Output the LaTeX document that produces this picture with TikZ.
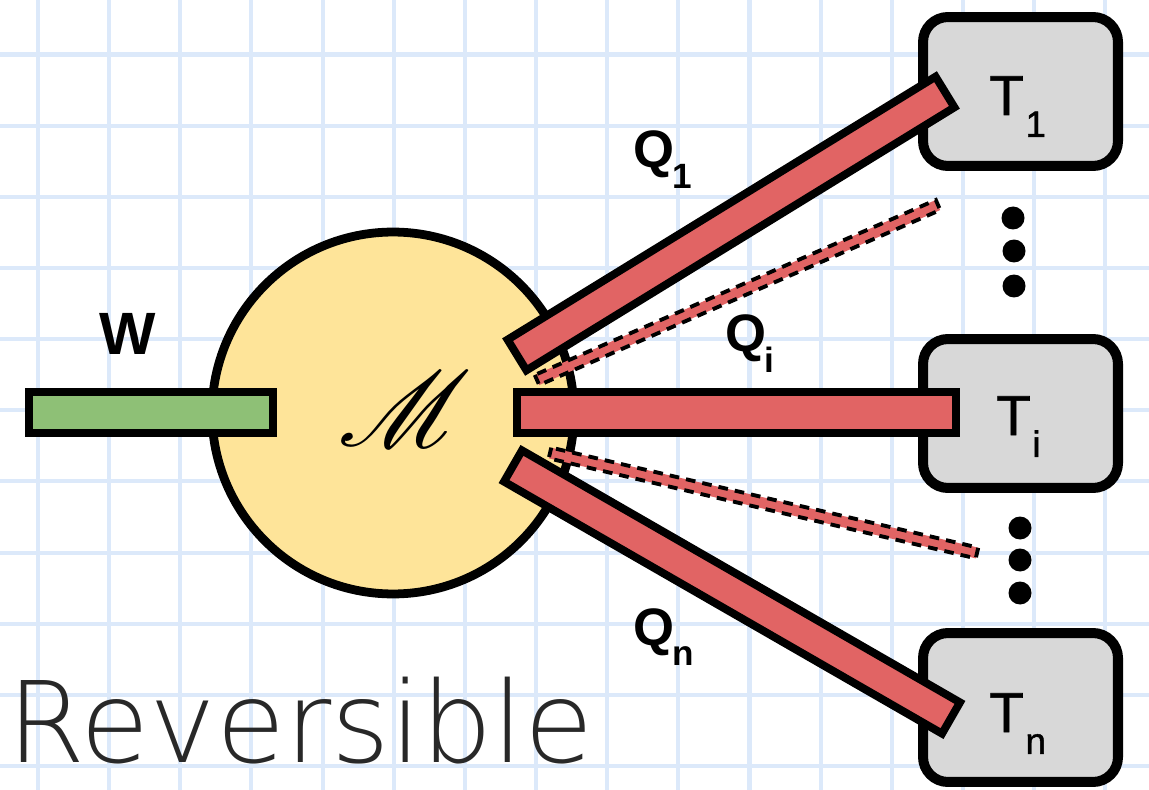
\documentclass[tikz,border=0pt]{standalone}
\usepackage{fontspec}
\setmainfont{Liberation Sans}
\newfontfamily\handfont{DejaVuSans-ExtraLight.ttf}
\newfontfamily\tfont{Liberation Sans}[FakeBold=1.2]
\usepackage{mathrsfs}
\usetikzlibrary{calc}
\definecolor{gridc}{RGB}{220,233,250}
\definecolor{barred}{RGB}{225,100,100}
\definecolor{bargreen}{RGB}{142,192,118}
\definecolor{boxgray}{RGB}{216,216,216}
\definecolor{engy}{RGB}{254,228,153}
\definecolor{handc}{RGB}{40,40,40}
\newcommand\Qlab[1]{{\fontsize{30}{30}\selectfont\bfseries Q\kern-1pt\raisebox{-11.5pt}{\fontsize{20}{20}\selectfont\bfseries #1}}}
\newcommand\Tlab[1]{{\tfont\fontsize{32}{32}\selectfont T\kern1pt\raisebox{-12.5pt}{\fontsize{21}{21}\selectfont #1}}}
\tikzset{
  gridline/.style={draw=gridc, line width=2.3pt},
  engine/.style={circle, draw=black, fill=engy, line width=5pt, minimum size=7.24cm, inner sep=0pt},
  reservoir/.style={rectangle, rounded corners=0.5cm, draw=black, fill=boxgray, line width=5.7pt, minimum width=3.9cm, minimum height=2.98cm, inner sep=0pt},
  heatbar/.style={draw=black, fill=barred, line width=4.5pt, line join=miter},
  workbar/.style={draw=black, fill=bargreen, line width=4.5pt},
  revbar/.style={draw=black, fill=barred, line width=2.2pt, dash pattern=on 5.5pt off 4pt},
  ellipsisdot/.style={circle, fill=black, inner sep=0pt, minimum size=0.46cm},
  lbl/.style={anchor=base west, inner sep=0pt, text=black},
}
\begin{document}
\begin{tikzpicture}[x=0.02cm,y=-0.02cm]
\useasboundingbox (0,0) rectangle (1149,790);
\fill[white] (0,0) rectangle (1149,790);
\foreach \k in {0,...,15} \draw[gridline] ({38+71.15*\k},0) -- ({38+71.15*\k},790);
\foreach \k in {0,...,10} \draw[gridline] (0,{54.5+71.15*\k}) -- (1149,{54.5+71.15*\k});

% engine and reservoirs
\node[engine] (M) at (393,413) {};
\node[scale=6.1] (Mlab) at (405,409) {$\mathscr{M}$};
\node[reservoir] (T1) at (1020.5,91.5) {};
\node[reservoir] (Ti) at (1020.5,413.5) {};
\node[reservoir] (Tn) at (1020.5,707.5) {};

% work bar
\coordinate (wa) at (29,392);
\coordinate (wb) at (273,433);
\draw[workbar] (wa) rectangle (wb);

% heat bars
\coordinate (q1a) at (517,355); \coordinate (q1b) at (945,92);
\draw[heatbar] ($(q1a)!0.36cm!90:(q1b)$) -- ($(q1a)!0.36cm!-90:(q1b)$) -- ($(q1b)!0.36cm!90:(q1a)$) -- ($(q1b)!0.36cm!-90:(q1a)$) -- cycle;
\coordinate (tia) at (517,392); \coordinate (tib) at (956,433);
\draw[heatbar] (tia) rectangle (tib);
\coordinate (qna) at (513,466); \coordinate (qnb) at (951,718);
\draw[heatbar] ($(qna)!0.36cm!90:(qnb)$) -- ($(qna)!0.36cm!-90:(qnb)$) -- ($(qnb)!0.36cm!90:(qna)$) -- ($(qnb)!0.36cm!-90:(qna)$) -- cycle;

% dashed thin bands
\coordinate (r1a) at (537,380); \coordinate (r1b) at (938,205);
\draw[revbar] ($(r1a)!0.11cm!90:(r1b)$) -- ($(r1a)!0.11cm!-90:(r1b)$) -- ($(r1b)!0.11cm!90:(r1a)$) -- ($(r1b)!0.11cm!-90:(r1a)$) -- cycle;
\coordinate (r2a) at (550,453); \coordinate (r2b) at (977,553);
\draw[revbar] ($(r2a)!0.11cm!90:(r2b)$) -- ($(r2a)!0.11cm!-90:(r2b)$) -- ($(r2b)!0.11cm!90:(r2a)$) -- ($(r2b)!0.11cm!-90:(r2a)$) -- cycle;

% dots
\node[ellipsisdot] (d1) at (1013,218) {};
\node[ellipsisdot] (d2) at (1014,251) {};
\node[ellipsisdot] (d3) at (1014,286) {};
\node[ellipsisdot] (d4) at (1020,528) {};
\node[ellipsisdot] (d5) at (1020,560) {};
\node[ellipsisdot] (d6) at (1020,593) {};

% labels
\node[lbl] (Q1) at (633,168) {\Qlab{1}};
\node[lbl] (Qi) at (725,352) {\Qlab{i}};
\node[lbl] (Qn) at (633,645) {\Qlab{n}};
\node[lbl] (W) at (99,355) {\fontsize{34}{34}\selectfont\bfseries W};
\node[lbl] (T1l) at (989,115) {\Tlab{1}};
\node[lbl] (Til) at (996,435) {\Tlab{i}};
\node[lbl] (Tnl) at (989,732) {\Tlab{n}};
\node[lbl, text=handc] (rev) at (7,762) {\handfont\fontsize{64}{64}\selectfont Reversible};
\end{tikzpicture}
\end{document}
